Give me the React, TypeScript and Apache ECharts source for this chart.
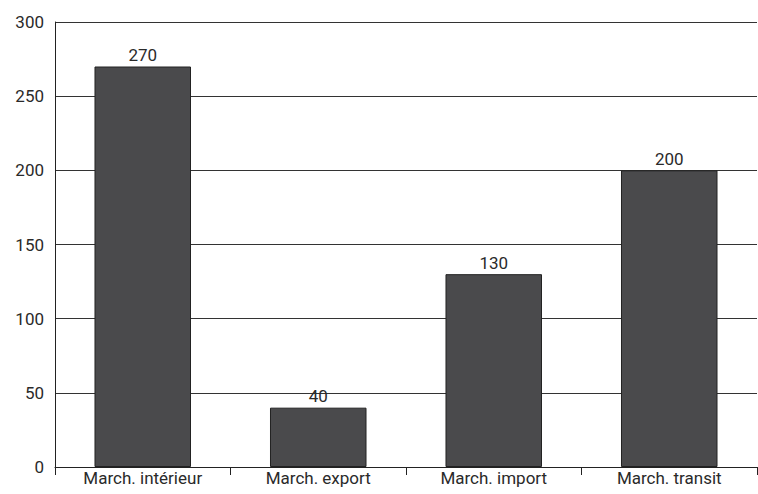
import React, { useEffect, useRef } from "react";
import * as echarts from "echarts";

const categories = ["March. intérieur", "March. export", "March. import", "March. transit"];
const values = [270, 40, 130, 200];

const FONT = 'Roboto, "DejaVu Sans Condensed", sans-serif';

export default function App() {
  const ref = useRef<HTMLDivElement>(null);
  useEffect(() => {
    if (!ref.current) return;
    const chart = echarts.init(ref.current, undefined, { renderer: "svg" });
    chart.setOption({
      animation: false,
      backgroundColor: "#ffffff",
      grid: { left: 55, right: 1, top: 22, bottom: 27, containLabel: false },
      xAxis: {
        type: "category",
        data: categories,
        axisLine: { show: true, lineStyle: { color: "#222", width: 1 } },
        axisTick: { show: true, alignWithLabel: false, length: 8, lineStyle: { color: "#222" } },
        axisLabel: { color: "#2a2a2a", fontSize: 17, fontFamily: FONT, margin: 2, interval: 0 },
        splitLine: { show: false },
      },
      yAxis: {
        type: "value",
        min: 0,
        max: 300,
        interval: 50,
        axisLine: { show: true, lineStyle: { color: "#222", width: 1 } },
        axisTick: { show: false },
        axisLabel: { color: "#2a2a2a", fontSize: 17, fontFamily: FONT, margin: 11 },
        splitLine: { show: true, lineStyle: { color: "#333", width: 1 } },
      },
      series: [
        {
          type: "bar",
          data: values,
          barWidth: "55%",
          itemStyle: { color: "#4a4a4c", borderColor: "#222", borderWidth: 1 },
          label: {
            show: true,
            position: "top",
            distance: 3,
            color: "#2a2a2a",
            fontSize: 17,
            fontFamily: FONT,
          },
        },
      ],
    });
    return () => chart.dispose();
  }, []);
  return (
    <div
      ref={ref}
      style={{ position: "fixed", left: 0, top: 0, width: 758, height: 494 }}
    />
  );
}
